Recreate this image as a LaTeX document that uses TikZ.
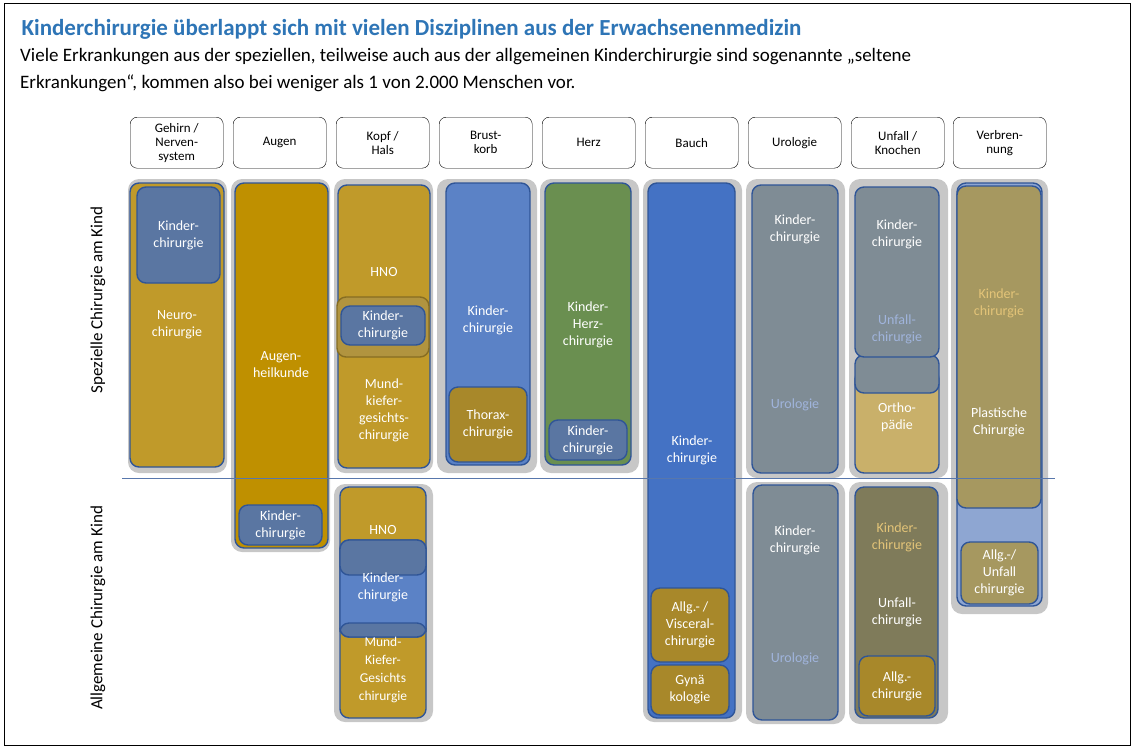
\documentclass[tikz,border=0pt]{standalone}
\usepackage{fontspec}
\setmainfont{Carlito}
\begin{document}
\begin{tikzpicture}[x=1pt,y=-1pt,
  bx/.style={draw=#1,rounded corners=9pt,inner sep=0pt,outer sep=0pt,anchor=north west,line width=1.4pt},
  gbx/.style={fill=black!22,rounded corners=11pt,inner sep=0pt,outer sep=0pt,anchor=north west,draw=none},
  hdr/.style={draw=black,rounded corners=7pt,fill=white,inner sep=0pt,anchor=north west,minimum width=93pt,minimum height=51pt,align=center,font=\fontsize{13}{14}\selectfont},
  lbl/.style={align=center,text=white,font=\fontsize{14}{17}\selectfont}]
\definecolor{gold}{HTML}{C09A2A}
\definecolor{dgold}{HTML}{BF9000}
\definecolor{bgold}{HTML}{A8882A}
\definecolor{slate}{HTML}{5A76A2}
\definecolor{mblue}{HTML}{5B82C6}
\definecolor{rblue}{HTML}{4472C4}
\definecolor{lblue}{HTML}{8EA6D2}
\definecolor{grn}{HTML}{6A8F50}
\definecolor{sgray}{HTML}{7F8C95}
\definecolor{tan}{HTML}{C9B06A}
\definecolor{olive}{HTML}{7F7B5A}
\definecolor{oltan}{HTML}{A69860}
\definecolor{edge}{HTML}{2F5597}
\definecolor{ttl}{HTML}{2E75B6}
\definecolor{pale}{HTML}{A0B4DC}
\definecolor{ptan}{HTML}{E3C478}
\newcommand\bx[7]{\node[bx=#7,fill=#6,minimum width={(#4-#2)*1pt},minimum height={(#5-#3)*1pt}] (#1) at (#2,#3) {};}
\newcommand\gb[5]{\node[gbx,minimum width={(#4-#2)*1pt},minimum height={(#5-#3)*1pt}] (#1) at (#2,#3) {};}
\useasboundingbox (0,0) rectangle (1135,748);
\draw[line width=1pt] (4,3) rectangle (1130,745);
\node[anchor=west,text=ttl,font=\fontsize{23}{26}\selectfont\bfseries] (title) at (18,29) {Kinderchirurgie überlappt sich mit vielen Disziplinen aus der Erwachsenenmedizin};
\node[anchor=north west,align=left,font=\fontsize{19}{27}\selectfont,inner sep=0pt] (sub) at (20,48) {Viele Erkrankungen aus der speziellen, teilweise auch aus der allgemeinen Kinderchirurgie sind sogenannte „seltene\\Erkrankungen“, kommen also bei weniger als 1 von 2.000 Menschen vor.};
% headers
\node[hdr] (h1) at (130,117) {Gehirn /\\Nerven-\\system};
\node[hdr] (h2) at (233,117) {Augen};
\node[hdr] (h3) at (336,117) {Kopf /\\Hals};
\node[hdr] (h4) at (439,117) {Brust-\\korb};
\node[hdr] (h5) at (542,117) {Herz};
\node[hdr] (h6) at (645,117) {Bauch};
\node[hdr] (h7) at (748,117) {Urologie};
\node[hdr] (h8) at (851,117) {Unfall /\\Knochen};
\node[hdr] (h9) at (953,117) {Verbren-\\nung};
% gray backgrounds
\gb{g1}{128}{179}{227}{473}
\gb{g2}{231}{179}{330}{552}
\gb{g3}{334}{179}{433}{473}
\gb{g3b}{334}{484}{433}{722}
\gb{g4}{437}{179}{537}{473}
\gb{g5}{540}{179}{639}{473}
\gb{g6}{643}{179}{742}{722}
\gb{g7}{746}{179}{845}{478}
\gb{g7b}{746}{482}{845}{724}
\gb{g8}{849}{179}{948}{478}
\gb{g8b}{849}{482}{948}{724}
\gb{g9}{951}{179}{1048}{614}
% col1
\bx{n1}{130}{183}{224}{467}{gold}{edge}
\bx{k1}{137}{187}{220}{283}{slate}{edge}
\node[lbl] at (k1.center) {Kinder-\\chirurgie};
\node[lbl] at (177,325) {Neuro-\\chirurgie};
% col2
\bx{a2}{235}{183}{328}{548}{dgold}{edge}
\bx{k2}{239}{505}{322}{545}{slate}{edge}
\node[lbl] at (281,365) {Augen-\\heilkunde};
\node[lbl] at (k2.center) {Kinder-\\chirurgie};
% col3
\bx{a3}{338}{185}{430}{468}{gold}{edge}
\node[lbl] at (384,272) {HNO};
\node[bx=bgold!80!black,fill=bgold!90,minimum width=92pt,minimum height=60pt] (r3) at (337,297) {};
\bx{k3}{341}{306}{425}{345}{slate}{edge}
\node[lbl] at (k3.center) {Kinder-\\chirurgie};
\node[lbl] at (384,410) {Mund-\\kiefer-\\gesichts-\\chirurgie};
\bx{b3}{340}{487}{426}{718}{gold}{edge}
\node[lbl] at (383,530) {HNO};
\bx{c3}{340}{540}{426}{637}{mblue}{edge}
\bx{t3}{340}{540}{426}{575}{slate}{edge}
\bx{u3}{340}{623}{426}{637}{slate}{edge}
\node[lbl] at (383,587) {Kinder-\\chirurgie};
\node[lbl,font=\fontsize{13.5}{18}\selectfont] at (383,670) {Mund-\\Kiefer-\\Gesichts\\chirurgie};
% col4
\bx{a4}{446}{183}{530}{465}{mblue}{edge}
\bx{t4}{449}{387}{527}{462}{bgold}{edge}
\node[lbl] at (488,320) {Kinder-\\chirurgie};
\node[lbl] at (t4.center) {Thorax-\\chirurgie};
% col5
\bx{a5}{545}{183}{631}{465}{grn}{edge}
\bx{k5}{549}{420}{627}{460}{slate}{edge}
\node[lbl] at (588,325) {Kinder-\\Herz-\\chirurgie};
\node[lbl] at (k5.center) {Kinder-\\chirurgie};
% col6
\bx{a6}{648}{183}{735}{718}{rblue}{edge}
\node[lbl] at (692,450) {Kinder-\\chirurgie};
\bx{v6}{651}{588}{729}{662}{bgold}{edge}
\node[lbl] at (v6.center) {Allg.- /\\Visceral-\\chirurgie};
\bx{y6}{651}{665}{729}{715}{bgold}{edge}
\node[lbl] at (y6.center) {Gynä\\kologie};
% col7
\bx{a7}{752}{185}{838}{473}{sgray}{edge}
\node[lbl] at (795,229) {Kinder-\\chirurgie};
\node[lbl,text=pale] at (795,405) {Urologie};
\bx{b7}{753}{485}{838}{720}{sgray}{edge}
\node[lbl] at (795,540) {Kinder-\\chirurgie};
\node[lbl,text=pale] at (795,659) {Urologie};
% col8
\bx{o8}{855}{370}{939}{473}{tan}{edge}
\bx{m8}{855}{355}{939}{393}{sgray}{edge}
\bx{a8}{855}{187}{939}{357}{sgray}{edge}
\node[lbl] at (897,234) {Kinder-\\chirurgie};
\node[lbl,text=pale] at (897,329) {Unfall-\\chirurgie};
\node[lbl] at (897,417) {Ortho-\\pädie};
\bx{b8}{855}{487}{938}{718}{olive}{edge}
\node[lbl,text=ptan] at (897,537) {Kinder-\\chirurgie};
\node[lbl] at (897,612) {Unfall-\\chirurgie};
\bx{c8}{859}{656}{935}{716}{bgold}{edge}
\node[lbl] at (c8.center) {Allg.-\\chirurgie};
% col9
\bx{a9}{957}{183}{1042}{606}{lblue}{edge}
\bx{p9}{957}{186}{1041}{508}{oltan}{edge}
\node[lbl,text=ptan] at (999,303) {Kinder-\\chirurgie};
\node[lbl] at (999,422) {Plastische\\Chirurgie};
\bx{c9}{961}{542}{1038}{604}{oltan}{edge}
\node[lbl] at (c9.center) {Allg.-/\\Unfall\\chirurgie};
% divider and side labels
\coordinate (dl) at (122,478);
\coordinate (dr) at (1055,478);
\draw[edge!80,line width=0.8pt] (dl) -- (dr);
\node[rotate=90,font=\fontsize{17}{20}\selectfont] (s1) at (98,300) {Spezielle Chirurgie am Kind};
\node[rotate=90,font=\fontsize{17}{20}\selectfont] (s2) at (98,608) {Allgemeine Chirurgie am Kind};
\end{tikzpicture}
\end{document}
